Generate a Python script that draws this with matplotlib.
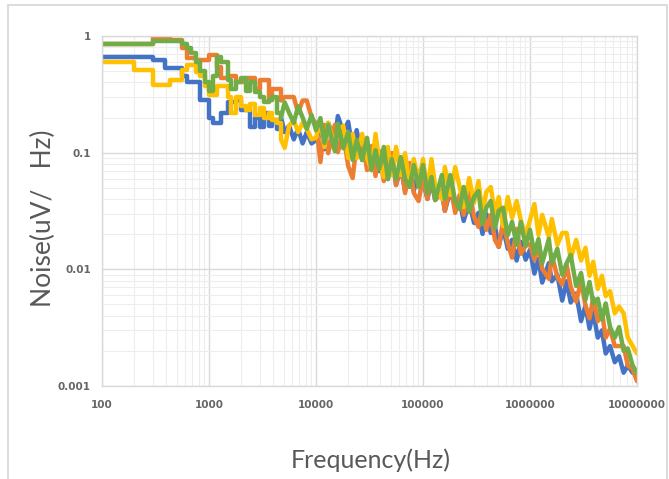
import matplotlib
matplotlib.use("Agg")
import matplotlib.pyplot as plt
from matplotlib.patches import Rectangle
from matplotlib.ticker import FixedLocator, FixedFormatter, NullFormatter

# E24 frequency grid (Hz), 100 Hz .. 10 MHz
e24 = [10, 11, 12, 13, 15, 16, 18, 20, 22, 24, 27, 30, 33, 36, 39, 43, 47, 51, 56, 62, 68, 75, 82, 91]
decades = [10, 100, 1000, 10000, 100000]
freq = [m * d for d in decades for m in e24] + [10000000]

blue = [0.66, 0.66, 0.66, 0.66, 0.66, 0.66, 0.66, 0.66, 0.66, 0.66, 0.66, 0.62, 0.62, 0.62, 0.53, 0.53, 0.53, 0.53, 0.45, 0.40, 0.40, 0.40, 0.28, 0.28,
        0.20, 0.18, 0.18, 0.22, 0.27, 0.27, 0.28, 0.23, 0.23, 0.166, 0.20, 0.166, 0.22, 0.17, 0.19, 0.16, 0.20, 0.15, 0.17, 0.13, 0.16, 0.12, 0.15, 0.12,
        0.128, 0.170, 0.107, 0.180, 0.126, 0.206, 0.150, 0.184, 0.105, 0.156, 0.0865, 0.114, 0.071, 0.101, 0.0696, 0.0917, 0.0594, 0.099, 0.0528, 0.0753, 0.0469, 0.0669, 0.0469, 0.0696,
        0.0571, 0.0401, 0.0571, 0.0393, 0.0469, 0.0317, 0.0469, 0.0342, 0.0385, 0.0260, 0.0378, 0.0250, 0.0305, 0.0201, 0.0299, 0.0205, 0.0235, 0.0156, 0.0226, 0.0150, 0.0179, 0.0119, 0.0172, 0.0121,
        0.0147, 0.0092, 0.0123, 0.0077, 0.0113, 0.0079, 0.0090, 0.0054, 0.0079, 0.0052, 0.0062, 0.0036, 0.0049, 0.0031, 0.0043, 0.0026, 0.0030, 0.0019, 0.0022, 0.0016, 0.0018, 0.0013, 0.0015, 0.0013, 0.0013]

orange = [0.86, 0.86, 0.86, 0.86, 0.86, 0.86, 0.86, 0.86, 0.86, 0.86, 0.86, 0.99, 0.99, 0.99, 0.99, 0.92, 0.92, 0.92, 0.79, 0.65, 0.65, 0.62, 0.62, 0.62,
          0.69, 0.69, 0.54, 0.44, 0.45, 0.45, 0.40, 0.40, 0.44, 0.44, 0.35, 0.42, 0.42, 0.28, 0.35, 0.35, 0.28, 0.30, 0.30, 0.30, 0.22, 0.28, 0.28, 0.20,
          0.177, 0.0831, 0.173, 0.099, 0.173, 0.101, 0.145, 0.0768, 0.0606, 0.118, 0.134, 0.071, 0.114, 0.0631, 0.103, 0.0571, 0.0848, 0.099, 0.0528, 0.0815, 0.0451, 0.0815, 0.0451, 0.0385,
          0.0618, 0.0401, 0.0643, 0.0393, 0.0469, 0.0317, 0.0528, 0.0305, 0.0434, 0.0293, 0.0479, 0.0282, 0.0231, 0.0349, 0.0218, 0.0293, 0.0179, 0.0156, 0.0255, 0.0168, 0.0126, 0.0222, 0.0136, 0.0159,
          0.0165, 0.0121, 0.0162, 0.0101, 0.0083, 0.0133, 0.0086, 0.0074, 0.0109, 0.0071, 0.0053, 0.0079, 0.0049, 0.0038, 0.0057, 0.0036, 0.0043, 0.0026, 0.0031, 0.0022, 0.0022, 0.0022, 0.0015, 0.0014, 0.0011]

yellow = [0.60, 0.60, 0.60, 0.60, 0.60, 0.60, 0.60, 0.51, 0.51, 0.51, 0.51, 0.38, 0.38, 0.38, 0.38, 0.42, 0.42, 0.42, 0.51, 0.56, 0.56, 0.49, 0.45, 0.37,
          0.31, 0.31, 0.37, 0.37, 0.30, 0.22, 0.30, 0.25, 0.23, 0.26, 0.21, 0.24, 0.20, 0.22, 0.19, 0.18, 0.13, 0.11, 0.17, 0.19, 0.15, 0.18, 0.16, 0.13,
          0.134, 0.184, 0.112, 0.180, 0.112, 0.156, 0.170, 0.0899, 0.145, 0.0899, 0.145, 0.0899, 0.071, 0.145, 0.0848, 0.0618, 0.112, 0.0643, 0.112, 0.0643, 0.099, 0.0508, 0.0882, 0.0571,
          0.0882, 0.0469, 0.0882, 0.0518, 0.0401, 0.0753, 0.0434, 0.0753, 0.0508, 0.0342, 0.0606, 0.0371, 0.0571, 0.0299, 0.0460, 0.0508, 0.0299, 0.0417, 0.0235, 0.0417, 0.0276, 0.0385, 0.0265, 0.0193,
          0.0265, 0.0363, 0.0197, 0.0293, 0.0189, 0.0270, 0.0162, 0.0205, 0.0205, 0.0123, 0.0179, 0.0119, 0.0153, 0.0088, 0.0116, 0.0068, 0.0088, 0.0059, 0.0065, 0.0042, 0.0048, 0.0042, 0.0026, 0.0022, 0.0019]

green = [0.86, 0.86, 0.86, 0.86, 0.86, 0.86, 0.86, 0.86, 0.86, 0.86, 0.86, 0.90, 0.90, 0.90, 0.90, 0.90, 0.90, 0.90, 0.85, 0.79, 0.71, 0.60, 0.50, 0.40,
         0.34, 0.45, 0.66, 0.60, 0.42, 0.35, 0.40, 0.44, 0.34, 0.40, 0.33, 0.30, 0.27, 0.28, 0.30, 0.22, 0.20, 0.27, 0.22, 0.18, 0.25, 0.20, 0.16, 0.21,
         0.156, 0.198, 0.121, 0.173, 0.103, 0.177, 0.109, 0.150, 0.0865, 0.128, 0.0865, 0.134, 0.071, 0.105, 0.0724, 0.112, 0.0594, 0.0882, 0.0594, 0.0917, 0.0594, 0.0508, 0.0783, 0.0508,
         0.0783, 0.0451, 0.0618, 0.0393, 0.0643, 0.0401, 0.0643, 0.0385, 0.0329, 0.0508, 0.0311, 0.0417, 0.0469, 0.0245, 0.0337, 0.0385, 0.0226, 0.0317, 0.0337, 0.0197, 0.0255, 0.0162, 0.0255, 0.0159,
         0.0218, 0.0136, 0.0182, 0.0113, 0.0182, 0.0113, 0.0150, 0.0090, 0.0113, 0.0133, 0.0072, 0.0093, 0.0055, 0.0078, 0.0051, 0.0056, 0.0037, 0.0051, 0.0032, 0.0026, 0.0032, 0.0020, 0.0021, 0.0015, 0.0013]

series = [("blue", blue, "#4472C4"), ("orange", orange, "#ED7D31"),
          ("yellow", yellow, "#FFC000"), ("green", green, "#70AD47")]

# index where the stepped low-frequency part hands over to the dense noisy part
split = 40

x_ticks = [100, 1000, 10000, 100000, 1000000, 10000000]
x_tick_labels = ["100", "1000", "10000", "100000", "1000000", "10000000"]
y_ticks = [0.001, 0.01, 0.1, 1]
y_tick_labels = ["0.001", "0.01", "0.1", "1"]

W, H = 669, 479
fig = plt.figure(figsize=(W / 100, H / 100), dpi=100)
ax = fig.add_axes([102 / W, 1 - 386 / H, 535 / W, 350 / H])

for name, vals, col in series:
    ax.plot(freq[:split + 1], vals[:split + 1], drawstyle="steps-post", color=col, lw=3.2,
            solid_joinstyle="round", solid_capstyle="round")
    ax.plot(freq[split:], vals[split:], color=col, lw=3.2,
            solid_joinstyle="round", solid_capstyle="round")

ax.set_xscale("log")
ax.set_yscale("log")
ax.set_xlim(100, 10000000)
ax.set_ylim(0.001, 1)

ax.xaxis.set_major_locator(FixedLocator(x_ticks))
ax.xaxis.set_major_formatter(FixedFormatter(x_tick_labels))
ax.yaxis.set_major_locator(FixedLocator(y_ticks))
ax.yaxis.set_major_formatter(FixedFormatter(y_tick_labels))
ax.xaxis.set_minor_formatter(NullFormatter())
ax.yaxis.set_minor_formatter(NullFormatter())

ax.grid(True, which="major", color="#D9D9D9", lw=1.0)
ax.grid(True, which="minor", color="#EDEDED", lw=0.8)
ax.set_axisbelow(True)
for s in ax.spines.values():
    s.set_color("#D9D9D9")
    s.set_linewidth(1.0)

ax.tick_params(which="both", length=0)
ax.tick_params(axis="y", pad=8, labelsize=7.5, labelcolor="#666666")
ax.tick_params(axis="x", pad=10, labelsize=7.5, labelcolor="#666666")
for lab in ax.get_xticklabels() + ax.get_yticklabels():
    lab.set_fontweight("bold")

fig.text(371 / W, 1 - 460 / H, "Frequency(Hz)", ha="center", va="center",
         fontsize=18, color="#595959", family="Lato")
fig.text(43 / W, 1 - 218 / H, "Noise(uV/   Hz)", ha="center", va="center",
         rotation=90, fontsize=19, color="#595959", family="Lato")

fig.patches.append(Rectangle((8 / W, -0.05), (667 - 8) / W, 1 - 5 / H + 0.05,
                             transform=fig.transFigure, fill=False,
                             edgecolor="#D9D9D9", lw=1.3))

fig.savefig("out.png", dpi=100)
